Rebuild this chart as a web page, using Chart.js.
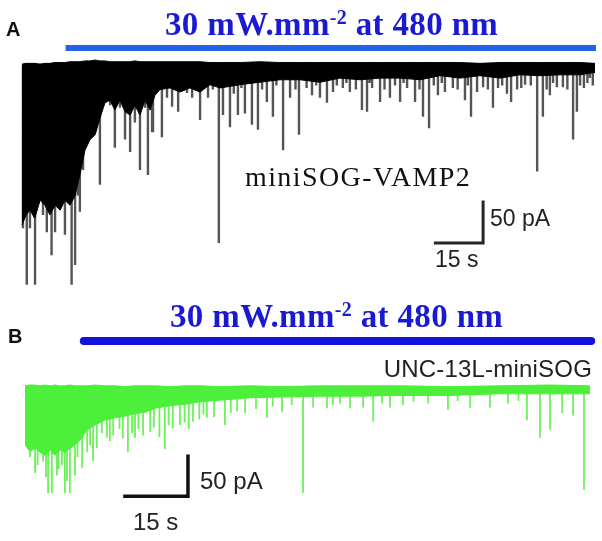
<!DOCTYPE html>
<html><head><meta charset="utf-8">
<script src="https://cdn.jsdelivr.net/npm/chart.js@4.4.1/dist/chart.umd.min.js"></script>
<style>
html,body{margin:0;padding:0;background:#fff;}
body{width:602px;height:541px;overflow:hidden;position:relative;}
canvas{position:absolute;left:0;}
.t{position:absolute;white-space:nowrap;line-height:1;}
.serif{font-family:"Liberation Serif","Times New Roman",serif;}
.sans{font-family:"Liberation Sans",Arial,sans-serif;}
.stim{color:#1a1ad4;font-weight:bold;font-size:33px;letter-spacing:0.35px;}
.stim sup{font-size:20px;position:relative;top:-1px;vertical-align:top;line-height:1;}
</style></head><body>
<canvas id="cA" width="602" height="290" style="top:0"></canvas>
<canvas id="cB" width="602" height="251" style="top:290px"></canvas>

<div class="t sans" style="left:6px;top:19px;font-size:20px;font-weight:bold;color:#111">A</div>
<div class="t serif stim" style="left:165px;top:8px">30 mW.mm<sup>-2</sup> at 480 nm</div>
<div class="t serif" style="left:245px;top:163px;font-size:28px;letter-spacing:1.4px;color:#111">miniSOG-VAMP2</div>
<div class="t sans" style="left:490px;top:207px;font-size:23px;color:#222">50 pA</div>
<div class="t sans" style="left:435px;top:248px;font-size:23px;color:#222">15 s</div>

<div class="t sans" style="left:8px;top:326px;font-size:20px;font-weight:bold;color:#111">B</div>
<div class="t serif stim" style="left:170px;top:300px">30 mW.mm<sup>-2</sup> at 480 nm</div>
<div class="t sans" style="right:10px;top:357px;font-size:24px;letter-spacing:0.2px;color:#222">UNC-13L-miniSOG</div>
<div class="t sans" style="left:200px;top:469px;font-size:24px;color:#222">50 pA</div>
<div class="t sans" style="left:133px;top:510px;font-size:24px;color:#222">15 s</div>

<script>
// ---------- Panel A : miniSOG-VAMP2 (time in s, current in pA) ----------
const envTimeA = [0,1.3,2.5,4,5.7,7.2,8.8,10.4,12,13.5,15.1,16.7,18.2,19.8,21.4,23,24.5,26.1,27.7,29.2,30.8,32.4,34,35.5,37.1,38.7,40.3,41.8,43.4,46.5,49.7,52.8,56,59.1,62.3,68.6,74.8,81.1,87.4,93.7,100,106.3,112.6,118.9,125.2,131.4,137.7,144,150.3,156.6,162.9,169.2,175.5,180.2];
const envUpperA = [1,2,2,2,1,2,2,3,3,3,4,4,4,5,5,6,5,5,4,4,4,4,4,5,4,4,4,4,4,4,4,4,4,3,3,3,4,3,3,3,3,3,3,3,3,3,3,2,3,3,3,3,3,2];
const envLowerA = [-195,-183,-177,-187,-165,-171,-183,-171,-177,-165,-171,-159,-134,-104,-91,-85,-65,-46,-43,-55,-43,-57,-61,-49,-61,-43,-55,-37,-30,-28,-33,-28,-33,-24,-28,-24,-21,-18,-18,-21,-16,-18,-16,-16,-18,-13,-16,-13,-16,-12,-13,-12,-12,-9];
const eventTimeA = [0.3,1.5,2.5,4.1,6.2,6.6,7.8,9.3,10.4,11.9,13.5,15.6,16.7,17.6,18.2,19.2,20.8,21.4,22.3,23.0,24.5,26.7,27.7,29.2,30.8,32.4,34.0,35.5,37.1,38.7,39.6,40.9,41.2,44.0,45.6,47.2,49.1,51.9,53.5,56.0,58.5,60.0,61.9,63.2,65.4,66.6,67.9,69.0,70.1,72.3,74.2,75.5,77.0,78.9,80.0,82.1,84.3,86.0,87.1,89.5,91.2,92.5,93.7,95.9,97.8,99.0,100.9,102.0,103.1,105.0,106.9,108.5,109.3,110.1,112.6,114.0,115.7,117.3,118.9,120.0,121.1,123.6,125.0,126.1,128.0,129.5,130.8,132.0,133.0,135.5,137.0,139.3,140.2,141.2,143.1,145.0,146.5,148.1,149.7,151.0,152.5,153.8,155.7,157.0,158.2,160.0,162.0,163.8,165.0,166.0,167.0,168.2,170.1,171.5,173.3,174.5,175.5,176.7,177.8,178.6,179.5];
const eventAmpA = [-199,-268,-199,-268,-146,-183,-204,-232,-204,-171,-207,-268,-244,-159,-179,-128,-55,-70,-79,-82,-146,-28,-49,-101,-52,-91,-106,-70,-128,-52,-134,-82,-82,-88,-40,-51,-57,-34,-40,-67,-40,-30,-217,-61,-76,-35,-61,-28,-59,-73,-79,-30,-45,-63,-25,-104,-40,-30,-85,-28,-37,-25,-40,-46,-33,-25,-28,-22,-33,-30,-55,-57,-22,-28,-45,-30,-40,-25,-45,-22,-28,-45,-30,-63,-77,-25,-37,-22,-33,-28,-30,-43,-25,-63,-33,-27,-30,-52,-28,-25,-35,-45,-30,-28,-24,-25,-130,-63,-30,-37,-22,-27,-27,-30,-91,-57,-25,-28,-22,-16,-25];
const stimA = [13.7, 180.5];

// ---------- Panel B : UNC-13L-miniSOG ----------
const envTimeB = [0,1.2,2.4,3.6,4.8,6,7.1,8.3,9.5,10.7,11.9,13.1,14.8,16.7,19,21.4,23.8,26.2,28.6,31,34.5,38.1,41.7,46.4,53.6,60.7,70.2,79.8,89.3,101.2,113.1,125,134.5];
const envUpperB = [4,5,5,4,5,4,5,4,4,5,4,4,4,5,4,4,3,4,4,4,3,4,4,3,4,3,4,4,4,3,4,5,4];
const envLowerB = [-70,-78,-74,-79,-83,-76,-83,-76,-79,-74,-70,-64,-51,-45,-39,-36,-34,-31,-29,-24,-21,-19,-16,-14,-11,-10,-9,-9,-8,-8,-6,-6,-6];
const eventTimeB = [1.2,2.4,3.0,4.3,5.0,5.5,6.4,7.6,8.0,8.8,9.5,10.0,10.7,11.9,12.5,13.6,14.8,15.5,16.2,17.1,18.3,19.5,20.2,21.0,22.5,23.3,24.5,25.5,26.2,27.0,28.1,29.8,30.7,32.0,33.3,34.2,35.2,36.9,38.0,39.0,40.0,41.5,42.5,43.3,45.0,47.6,49.0,50.5,52.4,55.0,57.6,59.0,61.2,63.5,66.2,68.6,71.9,73.3,75.0,77.4,80.5,82.9,85.0,86.9,90.0,92.5,96.0,100.7,103.0,106.0,110.7,115.0,117.5,119.5,122.6,125.0,127.9,130.5,133.1];
const eventAmpB = [-85,-105,-95,-91,-110,-130,-130,-108,-100,-95,-130,-115,-130,-108,-85,-99,-79,-70,-90,-74,-55,-61,-65,-58,-50,-62,-79,-55,-61,-50,-58,-54,-48,-60,-75,-45,-49,-45,-42,-50,-41,-38,-32,-36,-35,-45,-30,-28,-30,-25,-36,-22,-29,-20,-130,-23,-24,-20,-18,-24,-23,-41,-18,-23,-20,-16,-18,-26,-15,-24,-23,-18,-15,-39,-61,-51,-30,-33,-126];
const stimB = [14.0, 134.8];

// scale bars: 15 s x 50 pA
const scaleSeconds = 15, scalePicoAmps = 50;

function xy(ts, vs){ return ts.map((t,i)=>({x:t, y:vs[i]})); }
function spikes(ts, as){
  const p=[];
  ts.forEach((t,i)=>{ p.push({x:t,y:0},{x:t,y:as[i]},{x:t,y:0}); });
  return p;
}

const overlay = {
  id:'overlay',
  afterDatasetsDraw(chart, args, o){
    const {ctx} = chart, x = chart.scales.x, y = chart.scales.y;
    ctx.save();
    ctx.strokeStyle = o.stimColor; ctx.lineWidth = o.stimWidth; ctx.lineCap = o.stimCap;
    ctx.beginPath();
    ctx.moveTo(x.getPixelForValue(o.stim[0]), y.getPixelForValue(o.stimLevel));
    ctx.lineTo(x.getPixelForValue(o.stim[1]), y.getPixelForValue(o.stimLevel));
    ctx.stroke();
    const b = o.bar;
    ctx.strokeStyle = b.color; ctx.lineWidth = b.width; ctx.lineCap = 'square'; ctx.lineJoin = 'miter';
    ctx.beginPath();
    ctx.moveTo(x.getPixelForValue(b.t0), y.getPixelForValue(b.a0));
    ctx.lineTo(x.getPixelForValue(b.t0 + scaleSeconds), y.getPixelForValue(b.a0));
    ctx.lineTo(x.getPixelForValue(b.t0 + scaleSeconds), y.getPixelForValue(b.a0 + scalePicoAmps));
    ctx.stroke();
    ctx.restore();
  }
};

function makeTrace(id, c){
  return new Chart(document.getElementById(id), {
    type:'line',
    data:{datasets:[
      {data:xy(c.t, c.up), borderColor:c.band, backgroundColor:c.band, borderWidth:1, pointRadius:0, fill:'+1', tension:0},
      {data:xy(c.t, c.low), borderColor:c.band, borderWidth:1, pointRadius:0, fill:false, tension:0},
      {data:spikes(c.et, c.ea), borderColor:c.spike, borderWidth:c.spikeW, pointRadius:0, fill:false, tension:0, borderJoinStyle:'bevel'}
    ]},
    options:{
      responsive:false, animation:false, events:[],
      layout:{padding:0},
      plugins:{legend:{display:false}, tooltip:{enabled:false}, overlay:c.overlay},
      scales:{
        x:{type:'linear', min:c.xmin, max:c.xmax, display:false},
        y:{type:'linear', min:c.ymin, max:c.ymax, display:false}
      }
    },
    plugins:[overlay]
  });
}

makeTrace('cA', {
  t:envTimeA, up:envUpperA, low:envLowerA, et:eventTimeA, ea:eventAmpA,
  band:'#000000', spike:'#555555', spikeW:2.4,
  xmin:-22/3.18, xmax:580/3.18, ymin:-225/0.82, ymax:65/0.82,
  overlay:{stim:stimA, stimLevel:20.7, stimColor:'#2462ea', stimWidth:6, stimCap:'butt',
           bar:{t0:130, a0:-217, color:'#2b2424', width:3}}
});
makeTrace('cB', {
  t:envTimeB, up:envUpperB, low:envLowerB, et:eventTimeB, ea:eventAmpB,
  band:'#4cef3a', spike:'#6cf25a', spikeW:1.8,
  xmin:-25/4.2, xmax:577/4.2, ymin:-152/0.8, ymax:99/0.8,
  overlay:{stim:stimB, stimLevel:60, stimColor:'#1212dc', stimWidth:8, stimCap:'round',
           bar:{t0:23.8, a0:-134, color:'#111111', width:3.5}}
});
</script>
</body></html>
